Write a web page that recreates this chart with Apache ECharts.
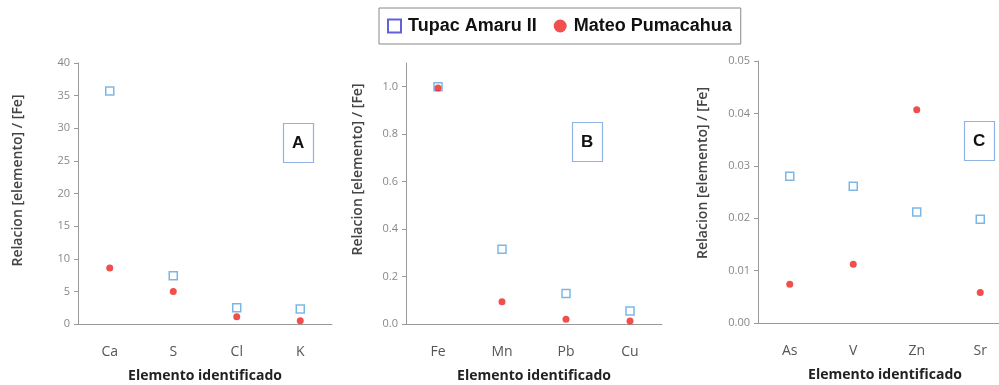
<!DOCTYPE html>
<html><head><meta charset="utf-8">
<script src="https://cdn.jsdelivr.net/npm/echarts@6/dist/echarts.min.js"></script>
<style>html,body{margin:0;padding:0;background:#fff}#c{width:999px;height:385px}</style>
</head><body><div id="c"></div>
<script>
const catsA = ['Ca','S','Cl','K'];
const tupacA = [35.7, 7.4, 2.5, 2.3];
const mateoA = [8.6, 5.0, 1.1, 0.5];
const catsB = ['Fe','Mn','Pb','Cu'];
const tupacB = [1.0, 0.315, 0.129, 0.055];
const mateoB = [0.995, 0.094, 0.02, 0.013];
const catsC = ['As','V','Zn','Sr'];
const tupacC = [0.0280, 0.0261, 0.0212, 0.0198];
const mateoC = [0.0074, 0.0112, 0.0407, 0.0058];
const panelLetters = ['A','B','C'];
const seriesNames = ['Tupac Amaru II','Mateo Pumacahua'];

const axisGrey = '#9a9a9a';
const font = 'Open Sans';
const grids = [
  {left:78, top:63, width:254, bottom:61, outerBoundsMode:'none'},
  {left:406, top:63, width:256, bottom:61, outerBoundsMode:'none'},
  {left:758, top:61, width:254, bottom:62, outerBoundsMode:'none'}
];
function xAxis(i, cats){
  return {type:'category', gridIndex:i, data:cats, boundaryGap:true,
    axisLine:{lineStyle:{color:axisGrey}},
    axisTick:{alignWithLabel:true, length:4, lineStyle:{color:axisGrey}},
    axisLabel:{color:'#555', fontSize:14, fontFamily:font, margin:21},
    name:'Elemento identificado', nameLocation:'middle', nameGap:45,
    nameTextStyle:{color:'#222', fontSize:14, fontWeight:'bold', fontFamily:font}};
}
function yAxis(i, max, interval, dec, gap, shift){
  return {type:'value', gridIndex:i, min:0, max:max, interval:interval,
    splitLine:{show:false},
    axisLine:{show:true, lineStyle:{color:axisGrey}},
    axisTick:{show:true, length:4, lineStyle:{color:axisGrey}},
    axisLabel:{color:'#888', fontSize:11, fontFamily:font, margin:8, showMaxLabel: dec!==1,
      formatter:v=>v.toFixed(dec)},
    name:'Relacion [elemento] / [Fe]', nameLocation:'middle', nameGap:gap, nameRotate:90,
    nameTextStyle:{color:'#444', fontSize:14, fontWeight:600, fontFamily:font, padding:[0,0,0,shift]}};
}
function sq(i, data){
  return {name:seriesNames[0], type:'scatter', xAxisIndex:i, yAxisIndex:i, data:data,
    symbol:'rect', symbolSize:8, z:2,
    itemStyle:{color:'#fff', borderColor:'#5aa5e0', borderWidth:1.5}};
}
function dot(i, data){
  return {name:seriesNames[1], type:'scatter', xAxisIndex:i, yAxisIndex:i, data:data,
    symbol:'circle', symbolSize:7, z:3,
    itemStyle:{color:'#ee2222'}};
}
const boxPos = [{left:283, top:123},{left:572, top:122},{left:964, top:121}];
const titles = panelLetters.map((t,i)=>({text:t, left:boxPos[i].left, top:boxPos[i].top,
  padding:[10,9,10,9], borderColor:'#8fb4e3', borderWidth:1.2, backgroundColor:'#fff',
  textStyle:{fontSize:17, fontWeight:'bold', color:'#111', fontFamily:'Liberation Sans', lineHeight:20}}));

const chart = echarts.init(document.getElementById('c'), null, {renderer:'canvas'});
chart.setOption({
  animation:false,
  title: titles,
  legend:{left:379, top:8, itemGap:17,
    borderColor:'#888', borderWidth:1, padding:[9,9,9,8], backgroundColor:'#fff',
    itemWidth:13, itemHeight:13,
    textStyle:{fontSize:18, fontWeight:'bold', color:'#111', fontFamily:'Liberation Sans', padding:[0,0,0,2]},
    data:[
      {name:seriesNames[0], icon:'rect', itemStyle:{color:'#fff', borderColor:'#3a3ad0', borderWidth:2}},
      {name:seriesNames[1], icon:'circle', itemStyle:{color:'#ee2222'}}
    ]},
  grid: grids,
  xAxis:[xAxis(0,catsA), xAxis(1,catsB), xAxis(2,catsC)],
  yAxis:[yAxis(0,40,5,0,53,26), yAxis(1,1.1,0.2,1,41,48), yAxis(2,0.05,0.01,2,48,38)],
  series:[sq(0,tupacA), dot(0,mateoA), sq(1,tupacB), dot(1,mateoB), sq(2,tupacC), dot(2,mateoC)]
});
</script></body></html>
